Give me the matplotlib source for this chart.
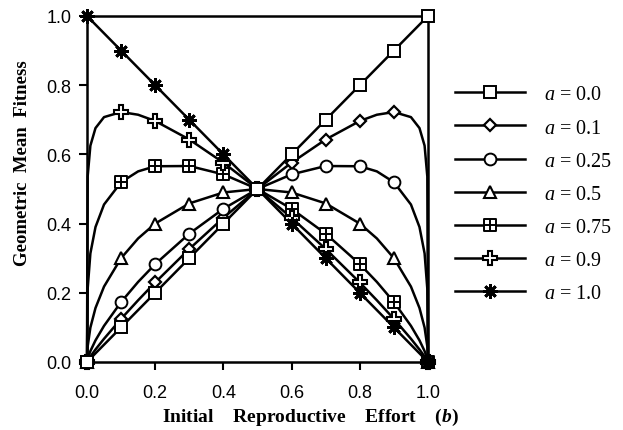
import matplotlib
matplotlib.use("Agg")
import matplotlib.pyplot as plt
from matplotlib.path import Path
from matplotlib.lines import Line2D

# ---- data ----
b_marks = [0.0, 0.1, 0.2, 0.3, 0.4, 0.5, 0.6, 0.7, 0.8, 0.9, 1.0]
labels = ["a = 0.0", "a = 0.1", "a = 0.25", "a = 0.5", "a = 0.75", "a = 0.9", "a = 1.0"]

marks_a00 = [0.0, 0.1, 0.2, 0.3, 0.4, 0.5, 0.6, 0.7, 0.8, 0.9, 1.0]
marks_a01 = [0.0, 0.125, 0.23, 0.327, 0.417, 0.5, 0.576, 0.643, 0.697, 0.722, 0.0]
marks_a025 = [0.0, 0.173, 0.283, 0.371, 0.443, 0.5, 0.542, 0.566, 0.566, 0.52, 0.0]
marks_a05 = [0.0, 0.3, 0.4, 0.458, 0.49, 0.5, 0.49, 0.458, 0.4, 0.3, 0.0]
marks_a075 = [0.0, 0.52, 0.566, 0.566, 0.542, 0.5, 0.443, 0.371, 0.283, 0.173, 0.0]
marks_a09 = [0.0, 0.722, 0.697, 0.643, 0.576, 0.5, 0.417, 0.327, 0.23, 0.125, 0.0]
marks_a10 = [1.0, 0.9, 0.8, 0.7, 0.6, 0.5, 0.4, 0.3, 0.2, 0.1, 0.0]

b_curve = [0.0, 0.002, 0.01, 0.025, 0.05, 0.1, 0.15, 0.2, 0.3, 0.4, 0.5,
           0.6, 0.7, 0.8, 0.85, 0.9, 0.95, 0.975, 0.99, 0.998, 1.0]
curve_a01 = [0, 0.0037, 0.0158, 0.0361, 0.0671, 0.1246, 0.1784, 0.2297, 0.3266, 0.4166, 0.5,
             0.5761, 0.6431, 0.6965, 0.7146, 0.7224, 0.7077, 0.6760, 0.6253, 0.5361, 0]
curve_a025 = [0, 0.0095, 0.0315, 0.0625, 0.1044, 0.1732, 0.2314, 0.2828, 0.3708, 0.4427, 0.5,
              0.5422, 0.5664, 0.5657, 0.5509, 0.5196, 0.4551, 0.3901, 0.3138, 0.2112, 0]
curve_a05 = [0, 0.0447, 0.0995, 0.1561, 0.2179, 0.3, 0.3571, 0.4, 0.4583, 0.4899, 0.5,
             0.4899, 0.4583, 0.4, 0.3571, 0.3, 0.2179, 0.1561, 0.0995, 0.0447, 0]
curve_a075 = [0, 0.2112, 0.3138, 0.3901, 0.4551, 0.5196, 0.5509, 0.5657, 0.5664, 0.5422, 0.5,
              0.4427, 0.3708, 0.2828, 0.2314, 0.1732, 0.1044, 0.0625, 0.0315, 0.0095, 0]
curve_a09 = [0, 0.5361, 0.6253, 0.6760, 0.7077, 0.7224, 0.7146, 0.6965, 0.6431, 0.5761, 0.5,
             0.4166, 0.3266, 0.2297, 0.1784, 0.1246, 0.0671, 0.0361, 0.0158, 0.0037, 0]

ticks = [0.0, 0.2, 0.4, 0.6, 0.8, 1.0]
tick_labels = ["0.0", "0.2", "0.4", "0.6", "0.8", "1.0"]

# ---- custom marker: square with cross ----
sq_cross = Path(
    [(-1, -1), (1, -1), (1, 1), (-1, 1), (-1, -1),
     (0, -1), (0, 1), (-1, 0), (1, 0)],
    [Path.MOVETO, Path.LINETO, Path.LINETO, Path.LINETO, Path.CLOSEPOLY,
     Path.MOVETO, Path.LINETO, Path.MOVETO, Path.LINETO])

plt.rcParams['mathtext.fontset'] = 'custom'
plt.rcParams['mathtext.rm'] = 'Liberation Serif'
plt.rcParams['mathtext.it'] = 'Liberation Serif:italic'
plt.rcParams['mathtext.bf'] = 'Liberation Serif:bold'
plt.rcParams['mathtext.bfit'] = 'Liberation Serif:bold:italic'

fig = plt.figure(figsize=(6.23, 4.31), dpi=100)
ax = fig.add_axes([0.1396, 0.1578, 0.5474, 0.8028])

LW = 1.8
series = [
    (b_marks, marks_a00, b_marks, marks_a00, dict(marker='s', ms=8, mew=1.4)),
    (b_curve, curve_a01, b_marks, marks_a01, dict(marker='D', ms=6, mew=1.6)),
    (b_curve, curve_a025, b_marks, marks_a025, dict(marker='o', ms=8.5, mew=1.4)),
    (b_curve, curve_a05, b_marks, marks_a05, dict(marker='^', ms=8.5, mew=1.5)),
    (b_curve, curve_a075, b_marks, marks_a075, dict(marker=sq_cross, ms=8, mew=1.4)),
    (b_curve, curve_a09, b_marks, marks_a09, dict(marker='P', ms=9.5, mew=1.5)),
    (b_marks, marks_a10, b_marks, marks_a10, dict(marker=(8, 2, 0), ms=10.5, mew=2.0)),
]
zorders = [20, 14, 15, 16, 17, 18, 19]

handles = []
for (xc, yc, xm, ym, mk), lab, z in zip(series, labels, zorders):
    ax.plot(xc, yc, color='black', lw=LW, zorder=3, clip_on=False)
    ax.plot(xm, ym, ls='none', color='black', mfc='white', mec='black',
            zorder=z, clip_on=False, **mk)
    handles.append(Line2D([0], [0], color='black', lw=LW, mfc='white',
                          mec='black', **mk))

ax.set_xlim(0, 1)
ax.set_ylim(0, 1)
ax.set_xticks(ticks)
ax.set_xticklabels(tick_labels)
ax.set_yticks(ticks)
ax.set_yticklabels(tick_labels)
for s in ax.spines.values():
    s.set_linewidth(LW)
ax.tick_params(direction='out', length=6, width=1.5,
               labelsize=13, top=False, right=False)
ax.tick_params(axis='x', pad=10)
ax.tick_params(axis='y', pad=5)
for t in ax.get_xticklabels() + ax.get_yticklabels():
    t.set_fontfamily('Liberation Sans')

ax.set_xlabel(r"Initial    Reproductive    Effort    ($\boldsymbol{b}$)",
              fontfamily='Liberation Serif', fontweight='bold', fontsize=14)
ax.set_ylabel("Geometric  Mean  Fitness",
              fontfamily='Liberation Serif', fontweight='bold', fontsize=13.5)
ax.xaxis.set_label_coords(0.655, -0.127)
ax.yaxis.set_label_coords(-0.165, 0.578)

leg_labels = [r"$a$ = " + l.split("= ")[1] for l in labels]
leg = fig.legend(handles, leg_labels, loc='upper left',
                 bbox_to_anchor=(0.7015, 0.842), frameon=False,
                 handlelength=3.45, handletextpad=0.95, labelspacing=0.7,
                 prop={'family': 'Liberation Serif', 'size': 14.5})

fig.savefig("out.png", dpi=100)
